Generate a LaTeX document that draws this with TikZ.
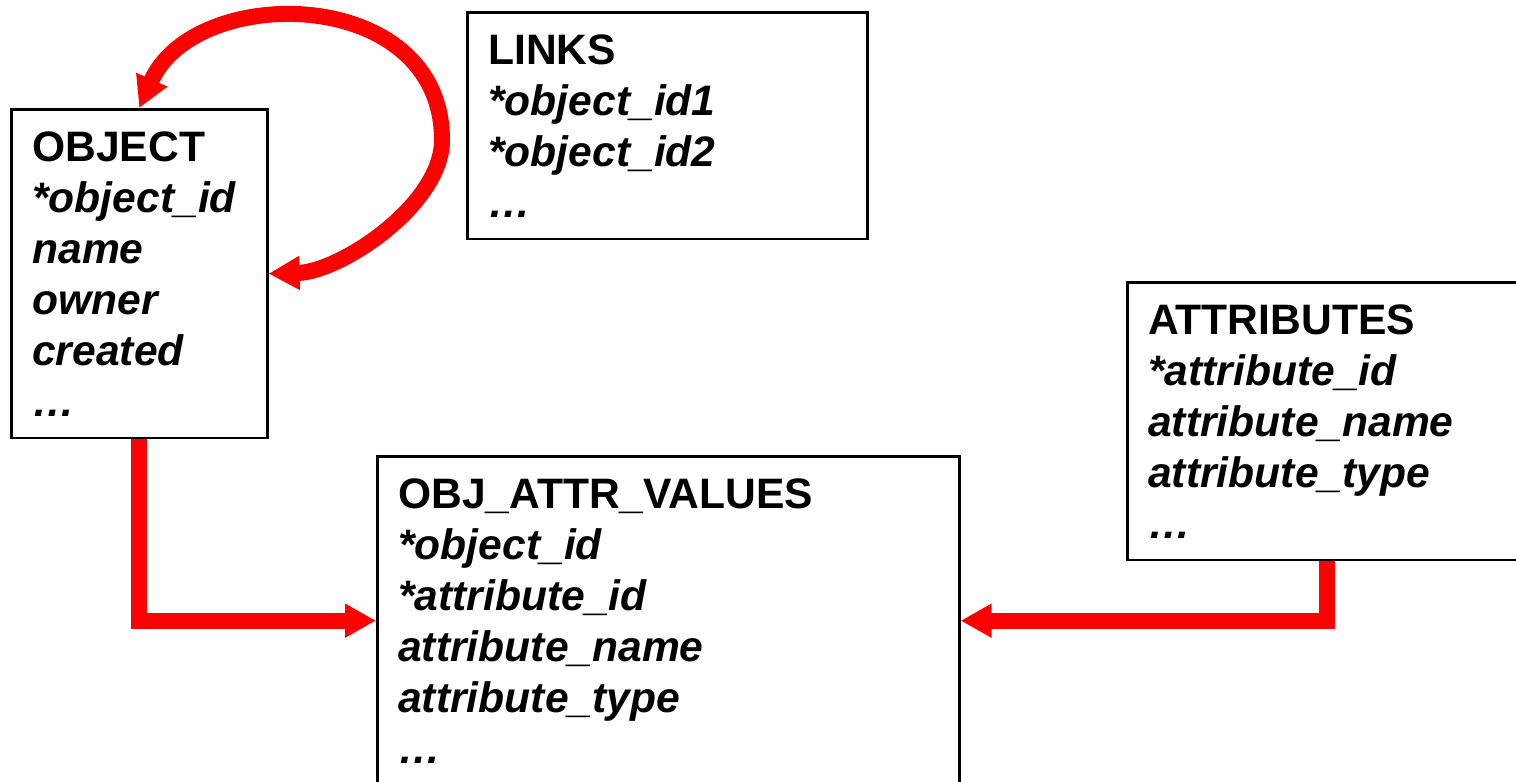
\documentclass[tikz,border=0pt]{standalone}
\usepackage{fontspec}
\setmainfont{Liberation Sans}
\usetikzlibrary{arrows.meta}
\tikzset{
	table/.style={draw, line width=1.3pt, anchor=north west, align=left,
		inner xsep=10.5pt, inner ysep=11pt, font={\fontsize{21.3}{25.5}\selectfont\bfseries}},
	link/.style={draw=red, line width=8pt, >={Triangle[length=15.5pt,width=16pt]}, ->},
}
\newcommand{\fld}[1]{\textit{#1}}

\begin{document}
\begin{tikzpicture}[x=0.5pt, y=-0.5pt]
	\clip (0,0) rectangle (1516,782);
	\node[table, text width=107pt] (obj) at (10,108)
		{OBJECT\\ \fld{*object\_id}\\ \fld{name}\\ \fld{owner}\\ \fld{created}\\ \fld{\dots}};
	\node[table, text width=179pt] (links) at (466,11)
		{LINKS\\ \fld{*object\_id1}\\ \fld{*object\_id2}\\ \fld{\dots}};
	\node[table, text width=179pt] (attr) at (1126,281)
		{ATTRIBUTES\\ \fld{*attribute\_id}\\ \fld{attribute\_name}\\ \fld{attribute\_type}\\ \fld{\dots}};
	\node[table, text width=270pt] (oav) at (376,455)
		{OBJ\_ATTR\_VALUES\\ \fld{*object\_id}\\ \fld{*attribute\_id}\\ \fld{attribute\_name}\\ \fld{attribute\_type}\\ \fld{\dots}};

	\draw[link] (obj.south) |- (oav.west);
	\draw[link] (attr.south) |- (oav.east);
	\draw[link, <->] (obj.east) .. controls (340,272) and (442,205) .. (442,140)
		.. controls (442,-15) and (195,-18) .. (obj.north);
\end{tikzpicture}
\end{document}
